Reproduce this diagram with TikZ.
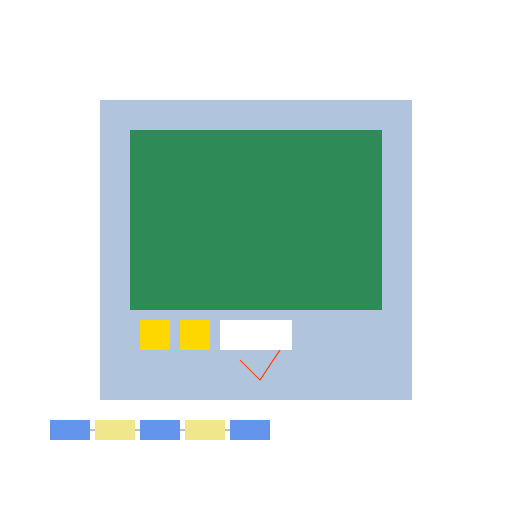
\documentclass[tikz,border=0pt]{standalone}
\begin{document}
\begin{tikzpicture}[x=1pt,y=-1pt,
  box/.style={inner sep=0pt,outer sep=0pt,draw=none},
  chip/.style={box,minimum width=40pt,minimum height=20pt,anchor=north west},
  conn/.style={draw={rgb,255:red,192;green,192;blue,192},line width=2pt}]
\definecolor{steel}{HTML}{B0C4DE}
\definecolor{sea}{HTML}{2E8B57}
\definecolor{gld}{HTML}{FFD700}
\definecolor{corn}{HTML}{6495ED}
\definecolor{khk}{HTML}{F0E68C}
\definecolor{ored}{HTML}{FF4500}
\useasboundingbox (0,0) rectangle (512,512);
\fill[white] (0,0) rectangle (512,512);
\node[box,fill=steel,minimum width=312pt,minimum height=300pt,anchor=north west] (frame) at (100,100) {};
\node[box,fill=sea,minimum width=252pt,minimum height=180pt,anchor=north west] (screen) at (130,130) {};
\node[box,fill=gld,minimum width=30pt,minimum height=30pt,anchor=north west] (b1) at (140,320) {};
\node[box,fill=gld,minimum width=30pt,minimum height=30pt,anchor=north west] (b2) at (180,320) {};
\node[box,fill=white,minimum width=72pt,minimum height=30pt,anchor=north west] (slot) at (220,320) {};
\coordinate (v1) at (240,360);
\coordinate (v2) at (260,380);
\coordinate (v3) at (280,350);
\draw[ored,line width=1pt] (v1) -- (v2) -- (v3);
\node[chip,fill=corn] (c1) at (50,420) {};
\node[chip,fill=khk] (c2) at (95,420) {};
\node[chip,fill=corn] (c3) at (140,420) {};
\node[chip,fill=khk] (c4) at (185,420) {};
\node[chip,fill=corn] (c5) at (230,420) {};
\draw[conn] (c1.east) -- (c2.west);
\draw[conn] (c2.east) -- (c3.west);
\draw[conn] (c3.east) -- (c4.west);
\draw[conn] (c4.east) -- (c5.west);
\end{tikzpicture}
\end{document}
